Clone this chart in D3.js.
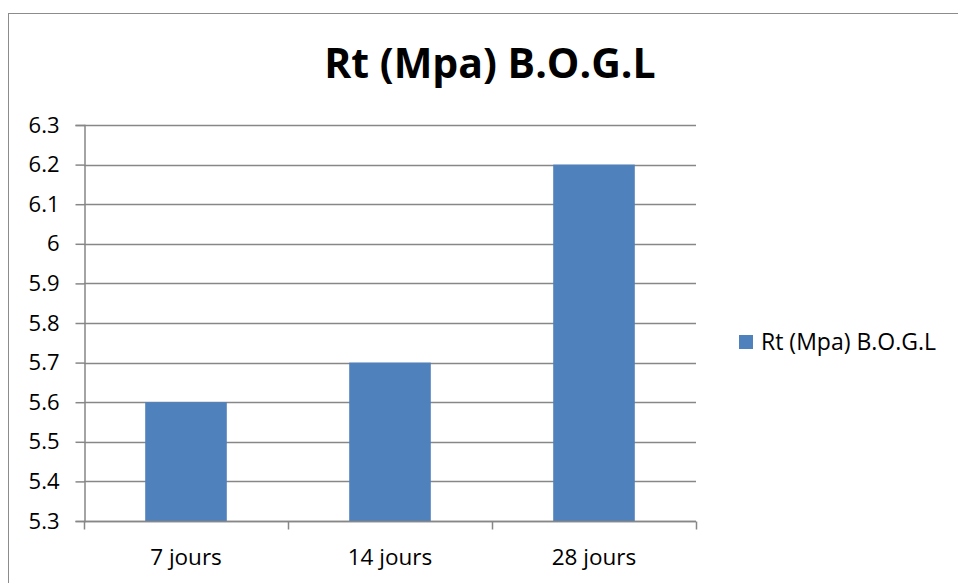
<!DOCTYPE html>
<html>
<head>
<meta charset="utf-8">
<script src="https://cdn.jsdelivr.net/npm/d3@7"></script>
<style>
  html, body { margin: 0; padding: 0; background: #fff; }
  svg { display: block; font-family: "Open Sans", "Noto Sans", sans-serif; }
</style>
</head>
<body>
<svg id="chart" width="958" height="583"></svg>
<script>
// Tensile strength of B.O.G.L concrete by curing age
const categories = ["7 jours", "14 jours", "28 jours"];
const values = [5.6, 5.7, 6.2];
const yTicks = [5.3, 5.4, 5.5, 5.6, 5.7, 5.8, 5.9, 6, 6.1, 6.2, 6.3];
const seriesName = "Rt (Mpa) B.O.G.L";
const title = "Rt (Mpa) B.O.G.L";

const svg = d3.select("#chart");
const plot = { left: 84, right: 696, top: 125, bottom: 521 };
const gridColor = "#878787";
const barColor = "#4F81BD";

// chart frame
svg.append("rect")
  .attr("x", 8.5).attr("y", 13.5)
  .attr("width", 1000).attr("height", 1000)
  .attr("fill", "none").attr("stroke", "#8c8c8c").attr("stroke-width", 1);

const x = d3.scaleBand().domain(categories).range([plot.left, plot.right]).paddingInner(0).paddingOuter(0);
const y = d3.scaleLinear().domain([5.3, 6.3]).range([plot.bottom, plot.top]);

// horizontal gridlines
svg.append("g")
  .selectAll("line")
  .data(yTicks)
  .join("line")
  .attr("x1", plot.left).attr("x2", plot.right)
  .attr("y1", d => Math.round(y(d)) + 0.5).attr("y2", d => Math.round(y(d)) + 0.5)
  .attr("stroke", gridColor).attr("stroke-width", 1.5);

// bars
const barW = x.bandwidth() * 0.4;
svg.append("g")
  .selectAll("rect")
  .data(categories.map((c, i) => ({ c, v: values[i] })))
  .join("rect")
  .attr("x", d => x(d.c) + (x.bandwidth() - barW) / 2)
  .attr("width", barW)
  .attr("y", d => y(d.v))
  .attr("height", d => y(5.3) - y(d.v))
  .attr("fill", barColor);

// y axis
const yAxis = d3.axisLeft(y).tickValues(yTicks).tickSize(9).tickPadding(16)
  .tickFormat(d => String(+d.toFixed(1)));
const gy = svg.append("g").attr("transform", `translate(${plot.left + 0.5},0)`).call(yAxis);
gy.select(".domain").attr("stroke", gridColor).attr("stroke-width", 1.5);
gy.selectAll(".tick line").attr("stroke", gridColor).attr("stroke-width", 1.5);
gy.selectAll(".tick text").attr("font-size", 22).attr("fill", "#000")
  .attr("font-family", "'Open Sans', sans-serif");

// x axis with ticks at band boundaries
const gx = svg.append("g").attr("transform", `translate(0,${Math.round(y(5.3)) + 0.5})`);
gx.append("line").attr("x1", plot.left).attr("x2", plot.right)
  .attr("stroke", gridColor).attr("stroke-width", 1.5);
const bounds = categories.map(c => x(c)).concat([plot.right]);
gx.selectAll("line.tk").data(bounds).join("line").attr("class", "tk")
  .attr("x1", d => Math.round(d) + 0.5).attr("x2", d => Math.round(d) + 0.5)
  .attr("y1", 0).attr("y2", 8)
  .attr("stroke", gridColor).attr("stroke-width", 1.5);
gx.selectAll("text").data(categories).join("text")
  .attr("x", d => x(d) + x.bandwidth() / 2)
  .attr("y", 43)
  .attr("text-anchor", "middle")
  .attr("font-size", 22.5)
  .attr("fill", "#000")
  .text(d => d);

// title
svg.append("text")
  .attr("x", 490).attr("y", 78)
  .attr("text-anchor", "middle")
  .attr("font-size", 41).attr("font-weight", "bold")
  .attr("fill", "#000")
  .text(title);

// legend
const lg = svg.append("g").attr("transform", "translate(739,335)");
lg.append("rect").attr("width", 14).attr("height", 14).attr("fill", barColor);
lg.append("text").attr("x", 22).attr("y", 14.5).attr("font-size", 23).attr("fill", "#000").text(seriesName);
</script>
</body>
</html>
